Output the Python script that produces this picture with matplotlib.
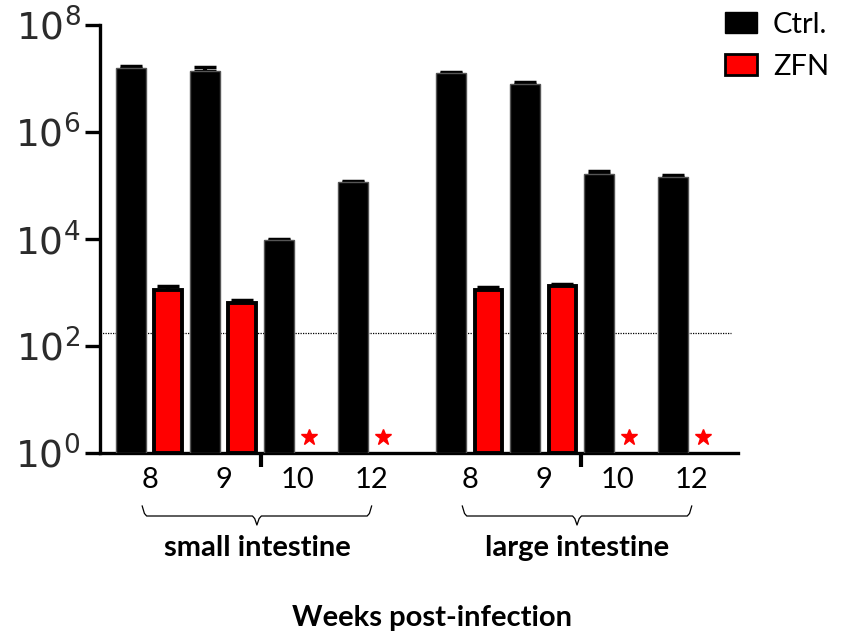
import numpy as np
import matplotlib
matplotlib.use('Agg')
import matplotlib.pyplot as plt
from matplotlib.patches import Patch
from matplotlib.transforms import blended_transform_factory

plt.rcParams['mathtext.fontset'] = 'custom'
plt.rcParams['mathtext.rm'] = 'Liberation Sans'

# values (log scale)
weeks = ['8', '9', '10', '12']
ctrl_small = [1.6e7, 1.4e7, 9.5e3, 1.15e5]
zfn_small = [1.1e3, 6.4e2, np.nan, np.nan]
ctrl_large = [1.25e7, 8.0e6, 1.65e5, 1.45e5]
zfn_large = [1.1e3, 1.3e3, np.nan, np.nan]
ctrl_small_err = [8e5, 2.5e6, 5e2, 5e3]
zfn_small_err = [250, 90, 0, 0]
ctrl_large_err = [8e5, 5e5, 2.5e4, 1e4]
zfn_large_err = [150, 150, 0, 0]
limit_of_detection = 175
not_detected = 2
tissues = ['small intestine', 'large intestine']

fig = plt.figure(figsize=(8.42, 6.36), dpi=100)
ax = fig.add_axes([100 / 842, 1 - 453 / 636, 638 / 842, 428 / 636])

# bar slots: ctrl, zfn alternating; second tissue shifted by a gap
gap = 0.65
width = 0.82
groups = [(ctrl_small, zfn_small, ctrl_small_err, zfn_small_err, 0.0),
          (ctrl_large, zfn_large, ctrl_large_err, zfn_large_err, 8 + gap)]

label_pos = []
for ctrl, zfn, cerr, zerr, start in groups:
    xc = start + 2 * np.arange(len(weeks))
    xz = xc + 1
    ax.errorbar(xc, ctrl, yerr=[np.zeros(len(ctrl)), cerr], fmt='none',
                ecolor='black', elinewidth=3, capsize=8, capthick=2.5, zorder=2)
    ax.bar(xc, ctrl, width=width, bottom=1, color='black', edgecolor='#555555',
           linewidth=1, zorder=3)
    zfn = np.array(zfn)
    ok = ~np.isnan(zfn)
    ax.errorbar(xz[ok], zfn[ok], yerr=[np.zeros(ok.sum()), np.array(zerr)[ok]],
                fmt='none', ecolor='black', elinewidth=3, capsize=8, capthick=2.5, zorder=2)
    ax.bar(xz[ok], zfn[ok], width=width - 0.08, bottom=1, color='red',
           edgecolor='black', linewidth=2.8, zorder=3)
    ax.plot(xz[~ok] - 0.2, [not_detected] * (~ok).sum(), ls='none', marker='*',
            color='red', markersize=12, zorder=4)
    label_pos.extend(list((xc + xz) / 2))

ax.set_yscale('log')
ax.set_ylim(1, 1e8)
ax.set_xlim(-0.84, 16.4)

ax.hlines(limit_of_detection, -0.84, 16.2, colors='black', linestyles=(0, (1, 1)),
          linewidth=0.9, zorder=1)

for s in ['top', 'right']:
    ax.spines[s].set_visible(False)
for s in ['left', 'bottom']:
    ax.spines[s].set_linewidth(2.4)

ax.set_yticks([1, 1e2, 1e4, 1e6, 1e8])
ax.set_yticklabels([r'$\mathregular{10^{%d}}$' % p for p in [0, 2, 4, 6, 8]],
                   fontsize=27, color='#2b2b2b')
ax.yaxis.set_minor_locator(matplotlib.ticker.NullLocator())
ax.tick_params(axis='y', length=11, width=2.4, pad=3)

ax.set_xticks(label_pos)
ax.set_xticklabels(weeks * 2, fontsize=21, family='Lato')
ax.tick_params(axis='x', length=0, pad=10)
ax.set_xticks([3.5, 8 + gap + 3.5], minor=True)
ax.tick_params(axis='x', which='minor', length=10, width=3)

# braces under the tick labels
tr = blended_transform_factory(ax.transData, fig.transFigure)
y_end, y_line, y_tip = 1 - 506 / 636, 1 - 516 / 636, 1 - 525 / 636
for i, name in enumerate(tissues):
    x0 = label_pos[4 * i] - 0.2
    x1 = label_pos[4 * i + 3]
    xm = (x0 + x1) / 2
    d = 0.12
    bx = [x0, x0 + d / 2, x0 + d, xm - d, xm - d / 2, xm, xm + d / 2, xm + d,
          x1 - d, x1 - d / 2, x1]
    by = [y_end, y_line + 0.004, y_line, y_line, y_line - 0.004, y_tip,
          y_line - 0.004, y_line, y_line, y_line + 0.004, y_end]
    ax.plot(bx, by, color='black', lw=0.9, transform=tr, clip_on=False)
    fig.text(xm, 1 - 548 / 636, name, transform=tr, ha='center', va='center',
             fontsize=21, fontweight='bold', family='Lato')

fig.text(432 / 842, 1 - 618 / 636, 'Weeks post-infection', ha='center', va='center',
         fontsize=21, fontweight='bold', family='Lato')

handles = [Patch(facecolor='black', edgecolor='black', label='Ctrl.'),
           Patch(facecolor='red', edgecolor='black', linewidth=2, label='ZFN')]
fig.legend(handles=handles, loc='upper left', bbox_to_anchor=(725 / 842, 1 - 12 / 636),
           frameon=False, prop={'family': 'Lato', 'size': 21}, borderpad=0,
           borderaxespad=0, handlelength=1.1, handleheight=0.72,
           handletextpad=0.55, labelspacing=0.55)

fig.savefig('out.png', dpi=100)
